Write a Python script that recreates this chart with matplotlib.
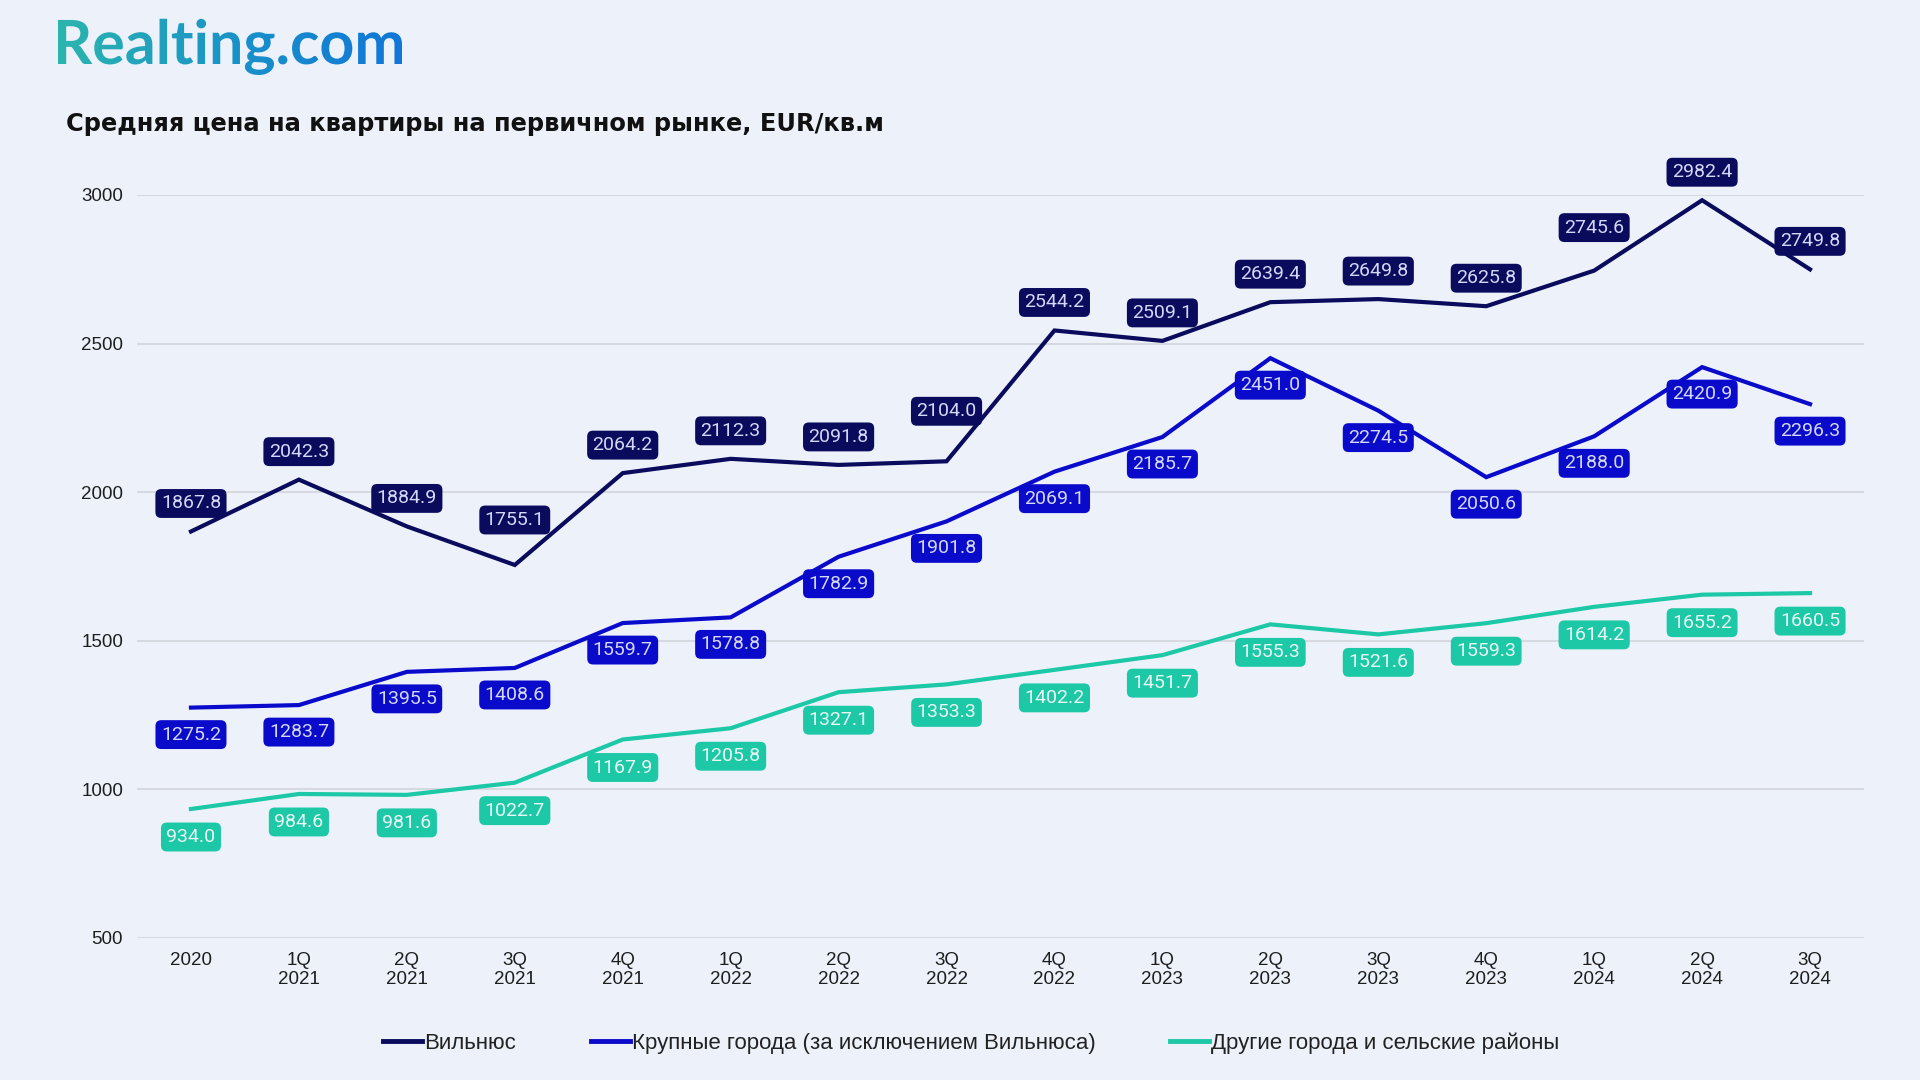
import numpy as np
import matplotlib
matplotlib.use('Agg')
import matplotlib.pyplot as plt
from matplotlib.textpath import TextPath
from matplotlib.patches import PathPatch
from matplotlib.font_manager import FontProperties
from matplotlib.transforms import Affine2D

# данные
quarters = ['2020', '1Q\n2021', '2Q\n2021', '3Q\n2021', '4Q\n2021', '1Q\n2022', '2Q\n2022', '3Q\n2022',
            '4Q\n2022', '1Q\n2023', '2Q\n2023', '3Q\n2023', '4Q\n2023', '1Q\n2024', '2Q\n2024', '3Q\n2024']
vilnius = [1867.8, 2042.3, 1884.9, 1755.1, 2064.2, 2112.3, 2091.8, 2104.0,
           2544.2, 2509.1, 2639.4, 2649.8, 2625.8, 2745.6, 2982.4, 2749.8]
big_cities = [1275.2, 1283.7, 1395.5, 1408.6, 1559.7, 1578.8, 1782.9, 1901.8,
              2069.1, 2185.7, 2451.0, 2274.5, 2050.6, 2188.0, 2420.9, 2296.3]
other_cities = [934.0, 984.6, 981.6, 1022.7, 1167.9, 1205.8, 1327.1, 1353.3,
                1402.2, 1451.7, 1555.3, 1521.6, 1559.3, 1614.2, 1655.2, 1660.5]
series_names = ['Вильнюс', 'Крупные города (за исключением Вильнюса)', 'Другие города и сельские районы']
yticks = [500, 1000, 1500, 2000, 2500, 3000]

# оформление
bg = '#edf2fa'
colors = ['#0b0b5e', '#0a0acb', '#1cc8a6']
text_colors = ['#d3d8f6', '#d3d8f6', '#eaf8f5']
# смещение подписей (пиксели, центр подписи относительно точки)
offsets = [
    [28, 28, 28, 45, 28, 28, 28, 50, 28, 28, 28, 28, 28, 43, 28, 28],
    [-27] * 16,
    [-28] * 16,
]

fig = plt.figure(figsize=(19.2, 10.8), dpi=100, facecolor=bg)
ax = fig.add_axes([137 / 1920, 1 - 938 / 1080, (1864 - 137) / 1920, (938 - 195) / 1080])
ax.set_facecolor(bg)

x = np.arange(len(quarters))
all_series = [vilnius, big_cities, other_cities]
handles = []
for i, ys in enumerate(all_series):
    h, = ax.plot(x, ys, color=colors[i], lw=3.0, solid_joinstyle='miter', clip_on=False, zorder=3,
                 label=series_names[i])
    handles.append(h)
    for j, v in enumerate(ys):
        ax.annotate(f'{v:.1f}', (x[j], v), xytext=(0, offsets[i][j]), textcoords='offset pixels',
                    ha='center', va='center', fontsize=14, family='Roboto', color=text_colors[i],
                    bbox=dict(boxstyle='round,pad=0.28,rounding_size=0.3', fc=colors[i], ec='none'),
                    zorder=5, annotation_clip=False)

ax.set_xlim(-0.5, len(quarters) - 0.5)
ax.set_ylim(500, 3000)
ax.set_xticks(x)
ax.set_xticklabels(quarters, fontsize=13.5, family='Liberation Sans', color='#1e1e1e', linespacing=1.2)
ax.set_yticks(yticks)
ax.set_yticklabels([str(t) for t in yticks], fontsize=13.5, family='Liberation Sans', color='#1e1e1e')
ax.tick_params(axis='both', length=0)
ax.tick_params(axis='x', pad=10)
ax.tick_params(axis='y', pad=10)
ax.grid(axis='y', color='#d6d9df', lw=1.5)
ax.set_axisbelow(True)
for s in ax.spines.values():
    s.set_visible(False)

# заголовок
fig.text(66 / 1920, 1 - 124 / 1080, 'Средняя цена на квартиры на первичном рынке, EUR/кв.м',
         fontsize=17.4, fontweight='bold', family='DejaVu Sans', color='#111111', va='center', ha='left')

# легенда
leg = fig.legend(handles=handles, loc='center', bbox_to_anchor=(0.506, 1 - 1043 / 1080), ncol=3,
                 frameon=False, handlelength=1.75, handletextpad=0.1, columnspacing=3.35,
                 prop=FontProperties(family='Liberation Sans', size=16))
for t in leg.get_texts():
    t.set_color('#222222')
for lh in leg.get_lines():
    lh.set_linewidth(3.5)

# логотип с градиентом
lax = fig.add_axes([0, 0, 1, 1], zorder=10)
lax.set_xlim(0, 1920)
lax.set_ylim(0, 1080)
lax.axis('off')
fp = FontProperties(family='Lato', weight='bold')
tp = TextPath((0, 0), 'Realting.com', size=100, prop=fp)
ext = tp.get_extents()
s = (402 - 58) / ext.width
tr = Affine2D().translate(-ext.x0, 0).scale(s).translate(58, 1080 - 64)
path = tr.transform_path(tp)
patch = PathPatch(path, fc='none', ec='none')
lax.add_patch(patch)
grad = np.linspace(0, 1, 256).reshape(1, -1)
cmap = matplotlib.colors.LinearSegmentedColormap.from_list('logo', ['#2bb5ae', '#1a93c8', '#1176d8'])
im = lax.imshow(grad, cmap=cmap, extent=[58, 402, 1080 - 90, 1080 - 10], aspect='auto', origin='lower')
im.set_clip_path(patch)
lax.set_xlim(0, 1920)
lax.set_ylim(0, 1080)

fig.savefig('out.png', dpi=100, facecolor=bg)
